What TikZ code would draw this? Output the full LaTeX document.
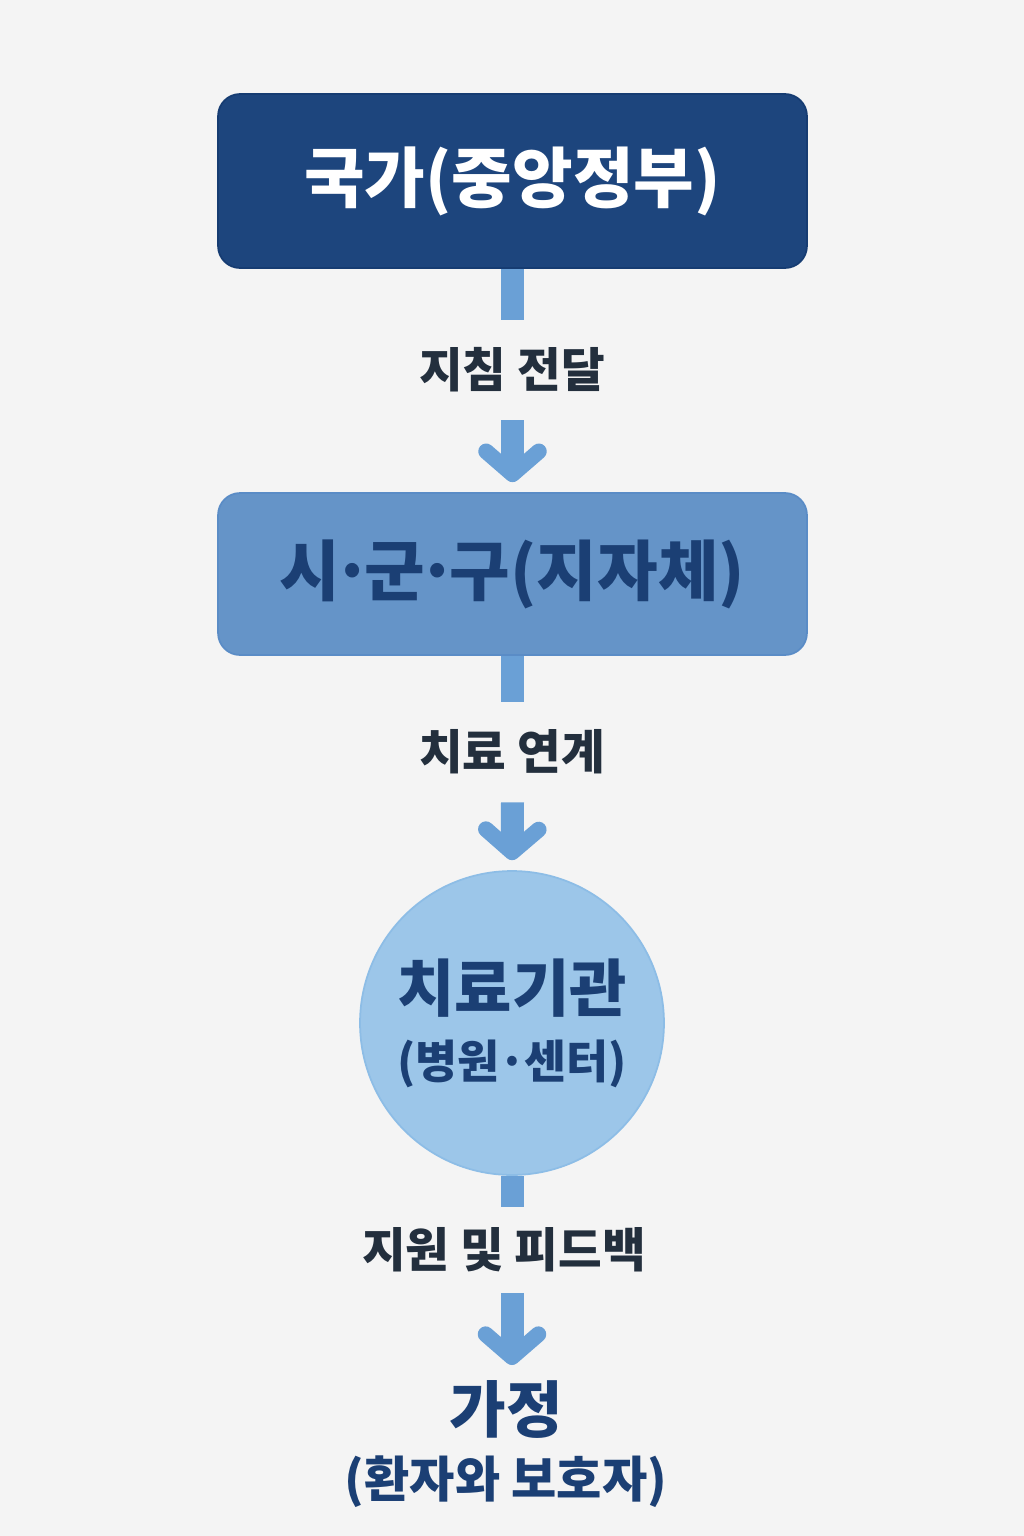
\documentclass[tikz,border=0pt]{standalone}
\usepackage{fontspec}
\setmainfont{Noto Sans CJK KR}
\usetikzlibrary{arrows.meta,positioning,shapes}
\definecolor{paper}{HTML}{F4F4F4}
\definecolor{navy}{HTML}{1D457D}
\definecolor{navyline}{HTML}{163C72}
\definecolor{midblue}{HTML}{6594C8}
\definecolor{midline}{HTML}{5A8CC6}
\definecolor{paleblue}{HTML}{9CC6E9}
\definecolor{paleline}{HTML}{8DBDE6}
\definecolor{linkblue}{HTML}{6AA0D6}
\definecolor{ink}{HTML}{1B3F74}
\definecolor{dark}{HTML}{232F3D}
\newcommand{\mdot}{\kern-0.12em·\kern-0.12em}
\newcommand{\cdotsp}{\kern-0.04em·\kern-0.04em}
\tikzset{
    x=0.02cm, y=-0.02cm,
    box/.style ={rectangle, rounded corners=0.44cm, minimum width=11.78cm, line width=1pt, align=center},
    lbl/.style ={inner sep=0pt, minimum height=2cm, text=dark, font=\fontsize{27}{30}\selectfont\bfseries},
    stub/.style ={line width=0.46cm, draw=linkblue},
    flow/.style ={stub, -{Straight Barb[length=13pt, width=30pt, line width=9pt, round]}, shorten >=0.2cm}
}
\begin{document}
\begin{tikzpicture}
    \fill[paper] (0,0) rectangle (1024,1536);
    \useasboundingbox (0,0) rectangle (1024,1536);

    \node (gov) at (512.5,181) [box, fill=navy, draw=navyline, minimum height=3.48cm, text=white,
        font=\fontsize{37.5}{44}\selectfont\bfseries] {국가(중앙정부)};
    \node (l1) at (512,370) [lbl] {지침 전달};
    \node (local) at (512.5,574) [box, fill=midblue, draw=midline, minimum height=3.24cm, text=ink,
        font=\fontsize{37.5}{44}\selectfont\bfseries] {시\mdot 군\mdot 구(지자체)};
    \node (l2) at (512,752) [lbl] {치료 연계};
    \node (inst) at (512,1023) [circle, fill=paleblue, draw=paleline, line width=1pt, minimum size=6.08cm,
        inner sep=0pt, align=center, text=ink]
        {{\fontsize{35.5}{40}\selectfont\bfseries 치료기관}\\[12pt]{\fontsize{26}{30}\selectfont\bfseries (병원\cdotsp 센터)}};
    \node (l3) at (504,1250) [lbl, minimum height=1.7cm] {지원 및 피드백};
    \node (home) at (506,1444) [align=center, inner sep=0pt, text=ink]
        {{\fontsize{35}{40}\selectfont\bfseries 가정}\\[9pt]{\fontsize{28}{32}\selectfont\bfseries (환자와 보호자)}};

    \path[stub] (gov.south) -- (gov.south |- l1.north);
    \path[flow] (gov.south |- l1.south) -- (local.north);
    \path[stub] (local.south) -- (local.south |- l2.north);
    \path[flow] (local.south |- l2.south) -- (inst.north);
    \path[stub] (inst.south) -- (inst.south |- l3.north);
    \path[flow, shorten >=0.3cm] (inst.south |- l3.south) -- (inst.south |- home.north);
\end{tikzpicture}
\end{document}
